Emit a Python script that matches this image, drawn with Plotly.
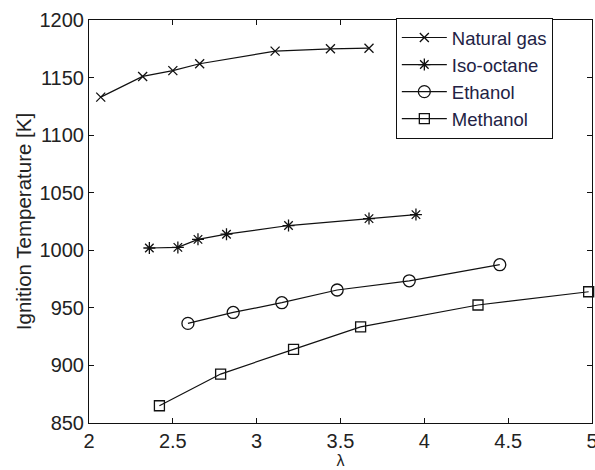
import plotly.graph_objects as go

ng_x = [2.07, 2.32, 2.50, 2.66, 3.11, 3.44, 3.67]
ng_y = [1133, 1151, 1156, 1162, 1173, 1175, 1175.5]

iso_x = [2.36, 2.53, 2.65, 2.82, 3.19, 3.67, 3.95]
iso_y = [1002, 1002.5, 1009.5, 1014, 1021.5, 1027.5, 1031]

eth_x = [2.59, 2.86, 3.15, 3.48, 3.91, 4.45]
eth_y = [936.5, 946, 954.5, 965.5, 973.5, 987.5]

met_x = [2.42, 2.785, 3.22, 3.62, 4.32, 4.98]
met_y = [865, 892.5, 914, 933.5, 952.5, 964]

x_ticks = [2, 2.5, 3, 3.5, 4, 4.5, 5]
y_ticks = [850, 900, 950, 1000, 1050, 1100, 1150, 1200]

FONT = "Liberation Sans, Arial, sans-serif"

fig = go.Figure()

series = [
    ("Natural gas", ng_x, ng_y, "x-thin", 9),
    ("Iso-octane", iso_x, iso_y, "asterisk", 10),
    ("Ethanol", eth_x, eth_y, "circle-open", 12),
    ("Methanol", met_x, met_y, "square-open", 10),
]
for name, xs, ys, sym, sz in series:
    fig.add_trace(go.Scatter(
        x=xs, y=ys, name=name, mode="lines+markers",
        line=dict(color="#111111", width=1.2),
        marker=dict(symbol=sym, size=sz, color="#111111",
                    line=dict(color="#111111", width=1.3)),
        cliponaxis=False,
    ))

fig.update_layout(
    width=595, height=470,
    margin=dict(l=89, r=3, t=20, b=47, autoexpand=False),
    paper_bgcolor="white", plot_bgcolor="white",
    font=dict(family=FONT, size=20, color="#222222"),
    showlegend=True,
    legend=dict(
        x=0.61, y=1.005, xanchor="left", yanchor="top",
        bgcolor="white", bordercolor="#111111", borderwidth=1,
        font=dict(family=FONT, size=18.5, color="#222244"),
        itemwidth=45, tracegroupgap=0,
    ),
)

fig.update_xaxes(
    range=[2, 5], tickvals=x_ticks, ticktext=[str(t) for t in x_ticks],
    showgrid=False, zeroline=False, automargin=False,
    showline=True, linecolor="#111111", linewidth=1, mirror="ticks",
    ticks="inside", ticklen=5, tickcolor="#111111",
    ticklabeloverflow="allow",
    title=dict(text="λ", standoff=0, font=dict(size=16)),
)
fig.update_yaxes(
    range=[850, 1200], tickvals=y_ticks, ticktext=[str(t) for t in y_ticks],
    showgrid=False, zeroline=False, automargin=False,
    showline=True, linecolor="#111111", linewidth=1, mirror="ticks",
    ticks="inside", ticklen=5, tickcolor="#111111",
    title=dict(text="Ignition Temperature [K]", standoff=2, font=dict(size=20.5)),
)

fig.write_html(
    "out.html",
    config={"displayModeBar": False},
    post_script="document.body.style.margin='0';document.body.style.overflow='hidden';",
)
